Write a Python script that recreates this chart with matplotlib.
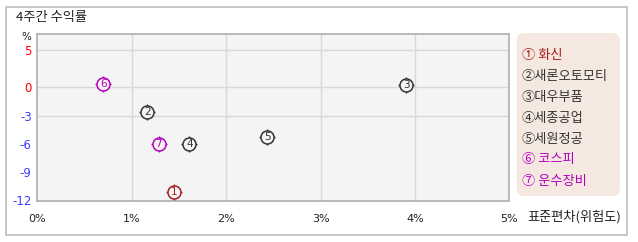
import numpy as np
import matplotlib
matplotlib.use("Agg")
import matplotlib.pyplot as plt
from matplotlib.patches import Rectangle, FancyBboxPatch

plt.rcParams['font.family'] = ['Noto Sans CJK KR', 'DejaVu Sans']

# ---- data ----
names = ["화신", "새론오토모티", "대우부품", "세종공업", "세원정공", "코스피", "운수장비"]
marks = ["①", "②", "③", "④", "⑤", "⑥", "⑦"]
nums = ["1", "2", "3", "4", "5", "6", "7"]
risk = [1.45, 1.165, 3.91, 1.61, 2.435, 0.70, 1.285]      # std dev (%)
ret4w = [-11.15, -2.6, 0.32, -6.0, -5.25, 0.45, -6.08]     # 4-week return (%)
colors = ["#a81e1e", "#333333", "#333333", "#333333", "#333333", "#b400c0", "#b400c0"]
x_ticks = [0, 1, 2, 3, 4, 5]
x_labels = ["0%", "1%", "2%", "3%", "4%", "5%"]
y_ticks = [5, 0, -3, -6, -9, -12]
y_labels = ["5", "0", "-3", "-6", "-9", "-12"]
grid_x = [1, 2, 3, 4]
grid_y = [5, 0, -3]

W, H = 638, 242
fig = plt.figure(figsize=(W / 100, H / 100), dpi=100)
fig.patch.set_facecolor("white")

# outer border
fig.patches.append(Rectangle((6 / W, 1 - 235 / H), 621 / W, 228 / H, transform=fig.transFigure,
                             fill=False, edgecolor="#bdbdbd", linewidth=1.2))

ax = fig.add_axes([37.3 / W, 1 - 201 / H, (509.3 - 37.3) / W, (201 - 34.3) / H])
ax.set_facecolor("#f4f4f4")

k = 7.5 / 9.43
def fwd(y):
    y = np.asarray(y, dtype=float)
    return np.where(y >= 0, y * k, y)
def inv(v):
    v = np.asarray(v, dtype=float)
    return np.where(v >= 0, v / k, v)
ax.set_yscale('function', functions=(fwd, inv))

ax.set_xlim(0, 5)
ax.set_ylim(-12.1, 7.1)

for gx in grid_x:
    ax.axvline(gx, color="#d8d8d8", linewidth=1.0, zorder=1)
for gy in grid_y:
    ax.axhline(gy, color="#d8d8d8", linewidth=1.0, zorder=1)

for s in ax.spines.values():
    s.set_color("#b4b4b4")
    s.set_linewidth(1.3)

ax.set_xticks(x_ticks)
ax.set_xticklabels(x_labels, fontsize=8, color="#222222", family=['DejaVu Sans'])
ax.set_yticks(y_ticks)
ax.set_yticklabels(y_labels, fontsize=8.5, family=['DejaVu Sans'])
for lbl, v in zip(ax.get_yticklabels(), y_ticks):
    lbl.set_color("#ff0000" if v >= 0 else "#3c3cff")
ax.tick_params(axis='both', length=0)
ax.tick_params(axis='x', pad=9)
ax.tick_params(axis='y', pad=4)
ax.minorticks_off()

# markers
for x, y, c, n in zip(risk, ret4w, colors, nums):
    ax.scatter([x], [y], marker='+', s=125, color=c, linewidths=1.0, zorder=3)
    ax.scatter([x], [y], marker='o', s=88, facecolor="#f4f4f4", edgecolor=c, linewidths=1.1, zorder=4)
    ax.text(x, y, n, color=c, fontsize=7.5, ha='center', va='center', zorder=5,
            family=['DejaVu Sans'])

# titles
fig.text(16 / W, 1 - 17 / H, "4주간 수익률", fontsize=9.5, color="#222222", ha='left', va='center')
fig.text(26 / W, 1 - 37 / H, "%", fontsize=7.5, color="#222222", ha='center', va='center',
         family=['DejaVu Sans'])
fig.text(527 / W, 1 - 217 / H, "표준편차(위험도)", fontsize=9.5, color="#222222", ha='left', va='center')

# legend panel
fig.patches.append(FancyBboxPatch((516.7 / W, 1 - 196 / H), 103.3 / W, 163 / H,
                                  boxstyle="round,pad=0,rounding_size=0.012",
                                  transform=fig.transFigure, facecolor="#f5e8e1",
                                  edgecolor="none", mutation_aspect=W / H))
leg_y = [55, 76.5, 97.5, 118.5, 139.5, 160, 181]
for m, nm, c, yy in zip(marks, names, colors, leg_y):
    sep = " " if c != "#333333" else ""
    fig.text(522 / W, 1 - yy / H, m + sep + nm, fontsize=9.5, color=c, ha='left', va='center')

fig.savefig("out.png", dpi=100, facecolor="white")
